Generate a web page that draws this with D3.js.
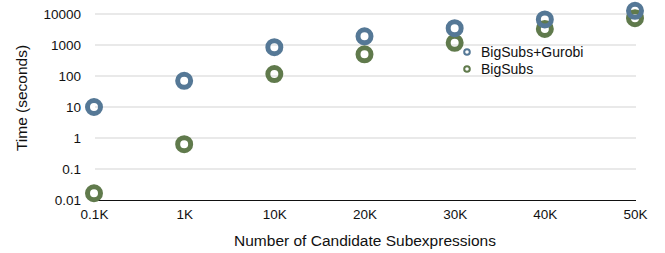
<!DOCTYPE html>
<html>
<head>
<meta charset="utf-8">
<script src="https://cdn.jsdelivr.net/npm/d3@7"></script>
<style>
  body { margin: 0; background: #fff; }
  text { font-family: "Liberation Sans", Arial, sans-serif; fill: #111; }
</style>
</head>
<body>
<script>
var categories = ["0.1K", "1K", "10K", "20K", "30K", "40K", "50K"];
var gurobiTimes = [10, 70, 850, 1900, 3500, 6700, 12700];
var bigsubsTimes = [0.0165, 0.63, 115, 500, 1180, 3300, 7300];
var yTicks = [0.01, 0.1, 1, 10, 100, 1000, 10000];
var seriesNames = ["BigSubs+Gurobi", "BigSubs"];
var seriesColors = ["#557896", "#607a4c"];

var width = 665,
    height = 253;

var svg = d3.select("body").append("svg")
    .attr("width", width)
    .attr("height", height);

var x = d3.scalePoint()
    .domain(categories)
    .range([94, 635]);

var y = d3.scaleLog()
    .domain([0.01, 10000])
    .range([200, 14]);

// gridlines
svg.append("g")
    .selectAll("line")
    .data(yTicks.slice(1))
    .enter().append("line")
    .attr("x1", 95)
    .attr("x2", 636)
    .attr("y1", function(d) { return y(d); })
    .attr("y2", function(d) { return y(d); })
    .attr("stroke", "#d3d3d3")
    .attr("stroke-width", 1);

// y axis labels
var yAxis = d3.axisLeft(y)
    .tickValues(yTicks)
    .tickSize(0)
    .tickPadding(0)
    .tickFormat(function(d) { return d3.format("~g")(d); });

var gy = svg.append("g")
    .attr("transform", "translate(81,0)")
    .call(yAxis);
gy.select(".domain").remove();
gy.selectAll("text").style("font-size", "13.5px").attr("fill", "#111");

// x axis
var xAxis = d3.axisBottom(x)
    .tickSize(0)
    .tickPadding(9);

var gx = svg.append("g")
    .attr("transform", "translate(0,200)")
    .call(xAxis);
gx.select(".domain").attr("d", "M95,0.5H636").attr("stroke", "#111");
gx.selectAll("text").style("font-size", "13.5px").attr("fill", "#111");

// axis titles
svg.append("text")
    .attr("transform", "translate(27,98) rotate(-90)")
    .attr("text-anchor", "middle")
    .style("font-size", "15.5px")
    .text("Time (seconds)");

svg.append("text")
    .attr("x", 365)
    .attr("y", 246)
    .attr("text-anchor", "middle")
    .style("font-size", "15.5px")
    .text("Number of Candidate Subexpressions");

// markers: green first so blue sits on top
var allSeries = [gurobiTimes, bigsubsTimes];
[1, 0].forEach(function(s) {
    svg.append("g")
        .selectAll("circle")
        .data(allSeries[s])
        .enter().append("circle")
        .attr("cx", function(d, i) { return x(categories[i]); })
        .attr("cy", function(d) { return y(d); })
        .attr("r", 6.5)
        .attr("fill", "none")
        .attr("stroke", seriesColors[s])
        .attr("stroke-width", 5);
});

// legend
var lg = svg.append("g")
    .attr("transform", "translate(467,52)");

lg.selectAll("circle")
    .data(seriesNames)
    .enter().append("circle")
    .attr("cx", 0)
    .attr("cy", function(d, i) { return i * 17; })
    .attr("r", 2.8)
    .attr("fill", "none")
    .attr("stroke", function(d, i) { return seriesColors[i]; })
    .attr("stroke-width", 2);

lg.selectAll("text")
    .data(seriesNames)
    .enter().append("text")
    .attr("x", 14)
    .attr("y", function(d, i) { return i * 17 + 5; })
    .style("font-size", "14px")
    .text(function(d) { return d; });
</script>
</body>
</html>
